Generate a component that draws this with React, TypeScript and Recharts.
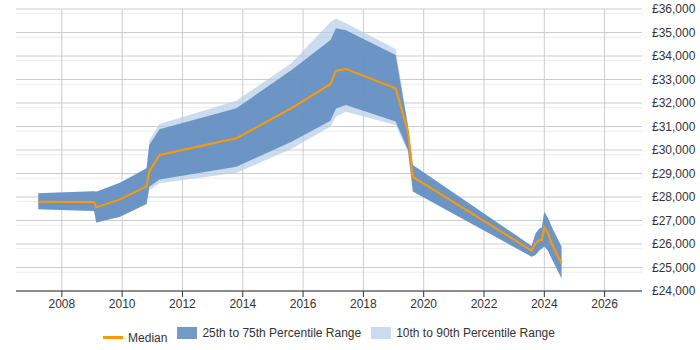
import React from 'react'
import { ComposedChart, Area, Line, XAxis, YAxis, CartesianGrid } from 'recharts'

// x positions (decimal years)
const years = [2007.22, 2009.07, 2009.14, 2009.93, 2010.81, 2010.9, 2011.24, 2013.79, 2015.62, 2016.91, 2017.09, 2017.42, 2019.07, 2019.48, 2019.64, 2023.58, 2023.71, 2023.85, 2023.92, 2024.0, 2024.13, 2024.24, 2024.57]
const median = [27800, 27790, 27560, 27900, 28450, 29080, 29790, 30500, 31780, 32810, 33370, 33450, 32630, 30780, 28860, 25720, 26030, 26170, 26170, 26710, 26450, 26030, 25180]
const p25 = [27480, 27400, 26910, 27160, 27700, 28440, 28750, 29290, 30350, 31250, 31770, 31910, 31210, 30000, 28230, 25460, 25530, 25745, 25800, 25890, 25700, 25390, 24540]
const p75 = [28160, 28250, 28220, 28610, 29220, 30210, 30880, 31780, 33400, 34680, 35180, 35100, 34040, 31000, 29360, 25920, 26460, 26670, 26700, 27370, 27090, 26740, 25890]
const p10 = [27480, 27400, 26910, 27160, 27700, 28300, 28580, 29030, 30050, 31000, 31420, 31630, 31060, 29900, 28230, 25460, 25530, 25745, 25800, 25890, 25700, 25390, 24540]
const p90 = [28160, 28250, 28220, 28610, 29220, 30400, 31110, 32100, 33700, 35450, 35600, 35390, 34300, 31100, 29360, 25920, 26460, 26670, 26700, 27370, 27090, 26740, 25890]

const xTicks = [2008, 2010, 2012, 2014, 2016, 2018, 2020, 2022, 2024, 2026]
const yTicks = [24000, 25000, 26000, 27000, 28000, 29000, 30000, 31000, 32000, 33000, 34000, 35000, 36000]
const minorTicks = yTicks.slice(0, -1).flatMap(v => [v + 200, v + 400, v + 600, v + 800])

const data = years.map((year, i) => ({
  year,
  median: median[i],
  inner: [p25[i], p75[i]],
  outer: [p10[i], p90[i]],
}))

const ORANGE = '#ff9900'
const DARK = '#5c88bd'
const LIGHT = '#b3cde6'
const FONT = '"Liberation Sans", Arial, sans-serif'

const fmt = (v: number) => '£' + v.toLocaleString('en-GB')

export default function App() {
  return (
    <div style={{ position: 'absolute', left: 0, top: 0, width: 700, height: 350, fontFamily: FONT }}>
      <ComposedChart width={700} height={350} data={data} margin={{ top: 9, right: 0, left: 16, bottom: 29 }}>
        <CartesianGrid horizontalValues={minorTicks} vertical={false} stroke="#ececec" />
        <CartesianGrid horizontalValues={yTicks} verticalValues={xTicks} stroke="#cccccc" />
        <XAxis
          dataKey="year"
          type="number"
          domain={[2006.48, 2027.24]}
          ticks={xTicks}
          allowDataOverflow
          height={30}
          stroke="#333"
          tick={{ fill: '#333', fontSize: 12, fontFamily: FONT }}
        />
        <YAxis
          orientation="right"
          domain={[24000, 36000]}
          ticks={yTicks}
          width={58}
          axisLine={false}
          tickLine={false}
          tickMargin={4}
          tickFormatter={fmt}
          tick={{ fill: '#333', fontSize: 12, fontFamily: FONT, textAnchor: 'start' }}
        />
        <Area dataKey="outer" type="linear" stroke="none" fill={LIGHT} fillOpacity={0.7} isAnimationActive={false} />
        <Area dataKey="inner" type="linear" stroke="none" fill={DARK} fillOpacity={0.85} isAnimationActive={false} />
        <Line dataKey="median" type="linear" stroke={ORANGE} strokeWidth={2} dot={false} isAnimationActive={false} />
      </ComposedChart>
      <div style={{
        position: 'absolute', left: 16, top: 325, width: 626, textAlign: 'center',
        fontSize: 12, color: '#333', whiteSpace: 'nowrap', lineHeight: '16px',
      }}>
        <LegendItem kind="line" color={ORANGE} label="Median" />
        <LegendItem kind="box" color="#7399c6" label="25th to 75th Percentile Range" />
        <LegendItem kind="box" color="#c9dbee" label="10th to 90th Percentile Range" />
      </div>
    </div>
  )
}

function LegendItem({ kind, color, label }: { kind: 'line' | 'box'; color: string; label: string }) {
  return (
    <span style={{ display: 'inline-flex', alignItems: 'center', margin: '0 5px' }}>
      {kind === 'line'
        ? <span style={{ display: 'inline-block', width: 20, height: 3, background: color }} />
        : <span style={{ display: 'inline-block', width: 20, height: 12, background: color }} />}
      <span style={{ marginLeft: 5 }}>{label}</span>
    </span>
  )
}
